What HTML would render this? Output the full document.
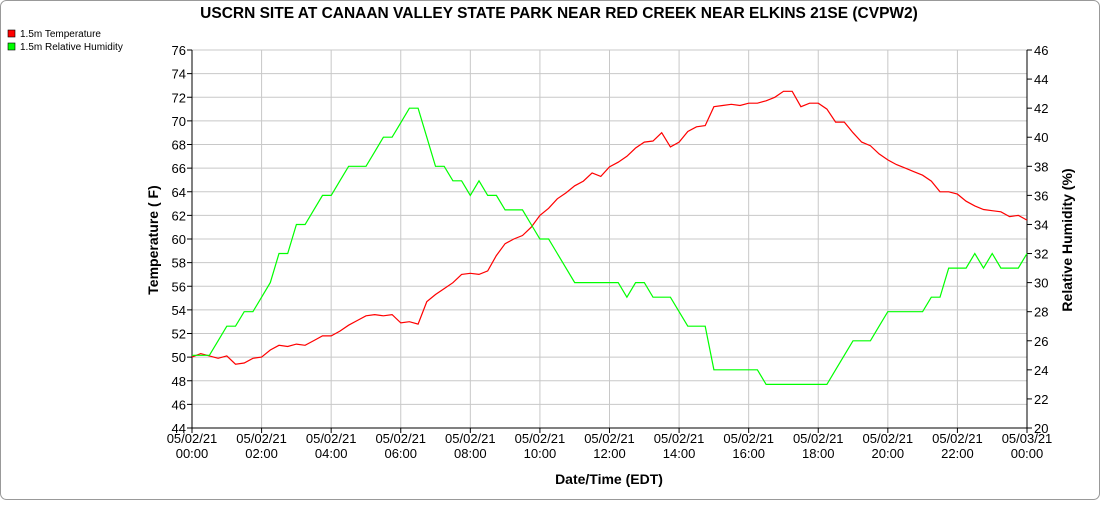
<!DOCTYPE html>
<html><head><meta charset="utf-8"><style>
body{margin:0;background:#fff;font-family:"Liberation Sans",sans-serif}
#wrap{position:relative;width:1100px;height:500px}
</style></head><body>
<div id="wrap">
<svg id="chart" width="1100" height="500" xmlns="http://www.w3.org/2000/svg" font-family="Liberation Sans, sans-serif">
<rect x="0.5" y="0.5" width="1099" height="499" rx="6" fill="#fff" stroke="#999"/>
<text x="559" y="18" text-anchor="middle" font-size="15.5" font-weight="bold">USCRN SITE AT CANAAN VALLEY STATE PARK NEAR RED CREEK NEAR ELKINS 21SE (CVPW2)</text>
<g>
<g><rect x="8" y="30" width="7" height="7" fill="#f00" stroke="#000" stroke-width="0.6"/><text x="20" y="37" font-size="10">1.5m Temperature</text></g>
<g><rect x="8" y="43" width="7" height="7" fill="#0f0" stroke="#000" stroke-width="0.6"/><text x="20" y="50" font-size="10">1.5m Relative Humidity</text></g>
</g>
<g id="grid"></g>
<g id="axes"></g>
<g id="series"></g>
<text transform="translate(158,240) rotate(-90)" text-anchor="middle" font-size="14" font-weight="bold">Temperature ( F)</text>
<text transform="translate(1072,240) rotate(-90)" text-anchor="middle" font-size="14" font-weight="bold">Relative Humidity (%)</text>
<text x="609" y="484" text-anchor="middle" font-size="14" font-weight="bold">Date/Time (EDT)</text>
</svg>
</div>
<script>
const xTickDates = ["05/02/21","05/02/21","05/02/21","05/02/21","05/02/21","05/02/21","05/02/21","05/02/21","05/02/21","05/02/21","05/02/21","05/02/21","05/03/21"];
const xTickTimes = ["00:00","02:00","04:00","06:00","08:00","10:00","12:00","14:00","16:00","18:00","20:00","22:00","00:00"];
const leftTicks = [44,46,48,50,52,54,56,58,60,62,64,66,68,70,72,74,76];
const rightTicks = [20,22,24,26,28,30,32,34,36,38,40,42,44,46];
// 15-minute samples, hours 0..24
const temperature = [50.0,50.3,50.1,49.9,50.1,49.4,49.5,49.9,50.0,50.6,51.0,50.9,51.1,51.0,51.4,51.8,51.8,52.2,52.7,53.1,53.5,53.6,53.5,53.6,52.9,53.0,52.8,54.7,55.3,55.8,56.3,57.0,57.1,57.0,57.3,58.6,59.6,60.0,60.3,61.0,62.0,62.6,63.4,63.9,64.5,64.9,65.6,65.3,66.1,66.5,67.0,67.7,68.2,68.3,69.0,67.8,68.2,69.1,69.5,69.6,71.2,71.3,71.4,71.3,71.5,71.5,71.7,72.0,72.5,72.5,71.2,71.5,71.5,71.0,69.9,69.9,69.0,68.2,67.9,67.2,66.7,66.3,66.0,65.7,65.4,64.9,64.0,64.0,63.8,63.2,62.8,62.5,62.4,62.3,61.9,62.0,61.6];
const humidity = [25,25,25,26,27,27,28,28,29,30,32,32,34,34,35,36,36,37,38,38,38,39,40,40,41,42,42,40,38,38,37,37,36,37,36,36,35,35,35,34,33,33,32,31,30,30,30,30,30,30,29,30,30,29,29,29,28,27,27,27,24,24,24,24,24,24,23,23,23,23,23,23,23,23,24,25,26,26,26,27,28,28,28,28,28,29,29,31,31,31,32,31,32,31,31,31,32];

const X0=192,X1=1027,Y0=50,Y1=428;
const xS=h=>X0+(h/24)*(X1-X0);
const yL=v=>Y1-(v-44)/(76-44)*(Y1-Y0);
const yR=v=>Y1-(v-20)/(46-20)*(Y1-Y0);
const NS="http://www.w3.org/2000/svg";
function mk(tag,attrs,parent){const e=document.createElementNS(NS,tag);for(const k in attrs)e.setAttribute(k,attrs[k]);parent.appendChild(e);return e;}
const grid=document.getElementById('grid'),axes=document.getElementById('axes'),series=document.getElementById('series');

leftTicks.forEach(v=>{
  const g=mk('line',{x1:X0,x2:X1,y1:yL(v),y2:yL(v),stroke:'#c8c8c8','stroke-width':1},grid);
  
  
  mk('line',{x1:X0-5,x2:X0,y1:yL(v),y2:yL(v),stroke:'#000'},axes);
  const t=mk('text',{x:X0-6,y:yL(v)+5,'text-anchor':'end','font-size':13},axes);
  t.textContent=v;
  
  
});
rightTicks.forEach(v=>{
  mk('line',{x1:X1,x2:X1+5,y1:yR(v),y2:yR(v),stroke:'#000'},axes);
  const t=mk('text',{x:X1+7,y:yR(v)+5,'font-size':13},axes);
  t.textContent=v;
  
  
});
xTickTimes.forEach((tm,i)=>{
  const x=xS(i*2);
  const g=mk('line',{x1:x,x2:x,y1:Y0,y2:Y1,stroke:'#c8c8c8'},grid);
  
  
  mk('line',{x1:x,x2:x,y1:Y1,y2:Y1+5,stroke:'#000'},axes);
  const t=mk('text',{x:x,y:443,'text-anchor':'middle','font-size':13},axes);
  t.textContent=xTickDates[i];
  
  
  const t2=mk('text',{x:x,y:458,'text-anchor':'middle','font-size':13},axes);
  t2.textContent=tm;
  
  
});
mk('line',{x1:X0,x2:X0,y1:Y0,y2:Y1,stroke:'#000'},axes);
mk('line',{x1:X1,x2:X1,y1:Y0,y2:Y1,stroke:'#000'},axes);
mk('line',{x1:X0,x2:X1,y1:Y1,y2:Y1,stroke:'#000'},axes);

const n=temperature.length;
const tp=temperature.map((v,i)=>xS(i*24/(n-1)).toFixed(1)+','+yL(v).toFixed(1)).join(' ');
const tl=mk('polyline',{points:tp,fill:'none',stroke:'#f00','stroke-width':1.2},series);


const m=humidity.length;
const hp=humidity.map((v,i)=>xS(i*24/(m-1)).toFixed(1)+','+yR(v).toFixed(1)).join(' ');
const hl=mk('polyline',{points:hp,fill:'none',stroke:'#0f0','stroke-width':1.2},series);


</script>
</body></html>
